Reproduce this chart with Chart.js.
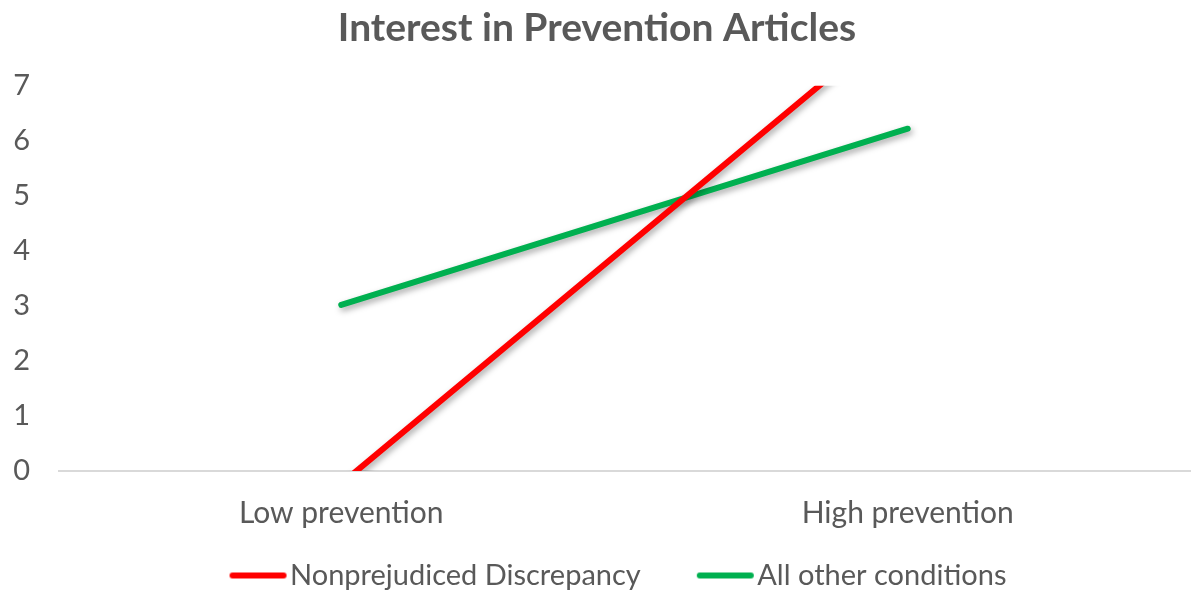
<!DOCTYPE html>
<html><head><meta charset="utf-8">
<script src="https://cdn.jsdelivr.net/npm/chart.js@4/dist/chart.umd.min.js"></script>
<style>html,body{margin:0;padding:0;background:#fff}canvas{display:block}</style>
</head><body>
<canvas id="c" width="1191" height="594"></canvas>
<script>
const categories = ['Low prevention', 'High prevention'];
const nonprejudiced = [-0.23, 8.34];
const allOther = [3.02, 6.22];
const seriesNames = ['Nonprejudiced Discrepancy', 'All other conditions'];
const seriesColors = ['#ff0000', '#00b050'];
const yTicks = [0, 1, 2, 3, 4, 5, 6, 7];
const FONT = 'Lato, "Open Sans", sans-serif';
const GREY = '#595959';

function legendLine(color) {
  const cv = document.createElement('canvas');
  cv.width = 116; cv.height = 10;
  const g = cv.getContext('2d');
  g.strokeStyle = color; g.lineWidth = 6; g.lineCap = 'round';
  g.beginPath(); g.moveTo(59, 5); g.lineTo(110, 5); g.stroke();
  return cv;
}

const shadowPlugin = {
  id: 'shadow',
  beforeDatasetsDraw(chart) {
    const ctx = chart.ctx; ctx.save();
    ctx.shadowColor = 'rgba(0,0,0,0.35)'; ctx.shadowBlur = 6; ctx.shadowOffsetX = 2; ctx.shadowOffsetY = 3;
  },
  afterDatasetsDraw(chart) { chart.ctx.restore(); }
};

new Chart(document.getElementById('c'), {
  type: 'line',
  data: {
    labels: categories,
    datasets: [
      { label: seriesNames[0], data: nonprejudiced, borderColor: seriesColors[0], backgroundColor: seriesColors[0], borderWidth: 6, borderCapStyle: 'round', pointRadius: 0, clip: 0 },
      { label: seriesNames[1], data: allOther, borderColor: seriesColors[1], backgroundColor: seriesColors[1], borderWidth: 6, borderCapStyle: 'round', pointRadius: 0, clip: 0 }
    ]
  },
  options: {
    responsive: false, animation: false,
    layout: { padding: { left: 0, right: -3, top: 0, bottom: -6 } },
    plugins: {
      title: { display: true, text: 'Interest in Prevention Articles', color: GREY, font: { family: FONT, size: 39, weight: 'bold' }, padding: { top: 5, bottom: 34 } },
      legend: { position: 'bottom', labels: { usePointStyle: true, pointStyleWidth: 88, color: GREY, font: { family: FONT, size: 29 }, padding: 14,
        generateLabels: chart => Chart.defaults.plugins.legend.labels.generateLabels(chart).map((l, i) => Object.assign(l, { pointStyle: legendLine(seriesColors[i]) })) } },
      tooltip: { enabled: false }
    },
    scales: {
      x: { offset: true, grid: { display: false }, border: { display: false }, ticks: { color: GREY, font: { family: FONT, size: 30 }, padding: 16 } },
      y: { min: yTicks[0], max: yTicks[yTicks.length - 1],
           afterBuildTicks: s => { s.ticks = yTicks.map(v => ({ value: v })); },
           ticks: { color: GREY, font: { family: FONT, size: 29 }, padding: 28 },
           border: { display: false },
           grid: { drawTicks: false, lineWidth: 2, color: c => c.tick && c.tick.value === 0 ? '#d9d9d9' : 'rgba(0,0,0,0)' },
           afterFit: s => { s.width = 58; } }
    }
  },
  plugins: [shadowPlugin]
});
</script>
</body></html>
